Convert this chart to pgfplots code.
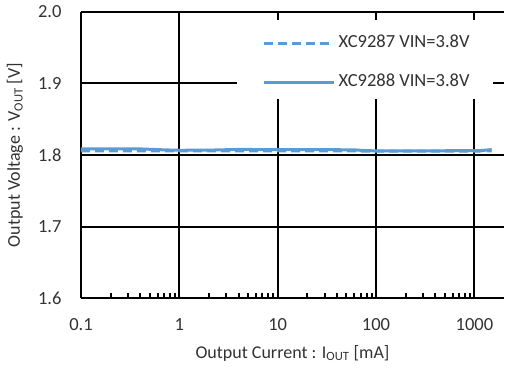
\documentclass[border=0pt]{standalone}
\usepackage{pgfplots}
\pgfplotsset{compat=1.18}
\usepackage{fontspec}
\setmainfont{Carlito}
\definecolor{lineblue}{RGB}{91,155,213}
\definecolor{txt}{RGB}{50,50,50}
\begin{document}
\begin{tikzpicture}
\useasboundingbox (-81pt,-71pt) rectangle (424pt,298pt);
\begin{axis}[
  scale only axis,
  width=423pt, height=286pt,
  xmode=log,
  xmin=0.1, xmax=2000,
  ymin=1.6, ymax=2.0,
  axis lines*=left,
  axis line style={line width=2pt, black},
  grid=major,
  major grid style={line width=2pt, black},
  xtick={0.1,1,10,100,1000},
  xticklabels={0.1,1,10,100,1000},
  ytick={1.6,1.7,1.8,1.9,2.0},
  /pgf/number format/assume math mode=true,
  yticklabel style={/pgf/number format/fixed, /pgf/number format/fixed zerofill, /pgf/number format/precision=1},
  major tick length=0pt,
  minor tick length=5pt,
  tick align=inside,
  minor tick style={line width=2pt, black},
  ytick style={draw=none},
  tick label style={font=\fontsize{18.5}{21}\selectfont, text=txt},
  xticklabel style={yshift=-17pt},
  yticklabel style={xshift=-16pt},
  xlabel={Output Current : I\textsubscript{OUT} [mA]},
  ylabel={Output Voltage : V\textsubscript{OUT} [V]},
  label style={font=\fontsize{18}{21}\selectfont, text=txt},
  xlabel style={at={(axis description cs:0.5,0)}, anchor=center, yshift=-55pt},
  ylabel style={at={(axis description cs:-0.156,0.5)}, anchor=center},
  legend style={at={(axis description cs:0.429,0.822)}, anchor=west, draw=none, fill=none,
    inner sep=0pt, row sep=23pt, font=\fontsize{18.5}{21}\selectfont, text=txt,
    nodes={inner sep=0pt, text height=12pt, text depth=4pt}},
  legend cell align=left,
  legend image code/.code={\draw[#1] (0pt,0pt) -- (70pt,0pt);},
  /tikz/every even column/.append style={column sep=4pt},
  /tikz/every odd column/.append style={column sep=3pt},
]
\fill[white] (rel axis cs:0.369,0.972) rectangle (rel axis cs:0.974,0.696);
\addplot[lineblue, line width=3pt, dash pattern=on 9pt off 5pt, no markers] coordinates {
(0.1,1.8058) (0.2,1.8058) (0.4,1.8058) (0.7,1.8057) (1,1.8056) (2,1.8057) (4,1.8058) (10,1.8058) (30,1.8058) (60,1.8057) (80,1.8055) (100,1.8055) (300,1.8055) (1000,1.8055) (1500,1.8058)
};
\addlegendentry{XC9287 VIN=3.8V}
\addplot[lineblue, line width=3pt, no markers] coordinates {
(0.1,1.8085) (0.2,1.8085) (0.4,1.8085) (0.7,1.8072) (1,1.8066) (2,1.8068) (4,1.8078) (10,1.8075) (30,1.8075) (60,1.8072) (80,1.8060) (100,1.8059) (300,1.8059) (1000,1.8060) (1200,1.8063) (1500,1.8076)
};
\addlegendentry{XC9288 VIN=3.8V}
\end{axis}
\end{tikzpicture}
\end{document}
